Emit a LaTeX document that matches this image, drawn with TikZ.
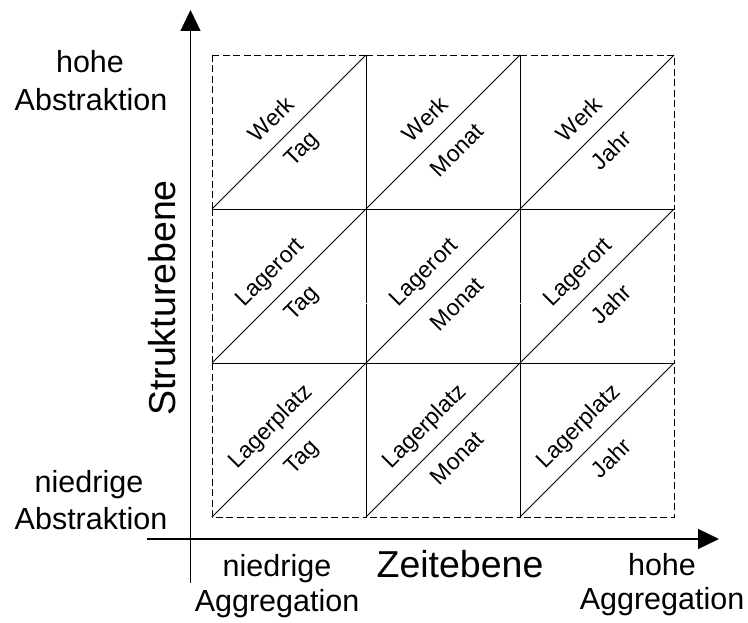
\documentclass[tikz,border=0pt]{standalone}
\usepackage{fontspec}
\setmainfont{Liberation Sans}
\usetikzlibrary{arrows.meta}
\begin{document}
\begin{tikzpicture}[x=1pt,y=-1pt,
  cellbox/.style={draw, dash pattern=on 7pt off 3.5pt, line width=0.9pt},
  diag/.style={line width=0.9pt},
  axisline/.style={line width=1.3pt, -{Triangle[length=21pt,width=20pt]}},
  celltext/.style={font=\fontsize{23}{27}\selectfont, rotate=45, inner sep=0pt},
  sidetext/.style={font=\fontsize{30.5}{36}\selectfont, anchor=base, inner sep=0pt},
  titletext/.style={font=\fontsize{37.5}{44}\selectfont, anchor=base, inner sep=0pt},
]
\useasboundingbox (0,0) rectangle (748,623);
% axes
\coordinate (yo) at (190.5,583);
\coordinate (ytip) at (190.5,10);
\coordinate (xo) at (147,539);
\coordinate (xtip) at (719,539);
\draw[axisline] (yo) -- (ytip);
\draw[axisline] (xo) -- (xtip);
% cells
\foreach \i/\t in {0/Tag,1/Monat,2/Jahr}{
 \foreach \j/\s in {0/Werk,1/Lagerort,2/Lagerplatz}{
  \pgfmathsetmacro\xa{212+154*\i}
  \pgfmathsetmacro\ya{55+154*\j}
  \coordinate (tl-\i-\j) at (\xa,\ya);
  \coordinate (br-\i-\j) at (\xa+154,\ya+154);
  \coordinate (bl-\i-\j) at (\xa,\ya+154);
  \coordinate (tr-\i-\j) at (\xa+154,\ya);
  \draw[cellbox] (tl-\i-\j) rectangle (br-\i-\j);
  \draw[diag] (bl-\i-\j) -- (tr-\i-\j);
  \node[celltext] (s-\i-\j) at (\xa+77-18,\ya+77-13) {\s};
  \node[celltext] (t-\i-\j) at (\xa+77+14,\ya+77+18) {\t};
 }
}
% side labels
\node[sidetext] (ha1) at (90,73) {hohe};
\node[sidetext] (ha2) at (91,111) {Abstraktion};
\node[sidetext] (na1) at (89,492) {niedrige};
\node[sidetext] (na2) at (91,529) {Abstraktion};
\node[sidetext] (ng1) at (277,576) {niedrige};
\node[sidetext] (ng2) at (277,611) {Aggregation};
\node[sidetext] (hg1) at (662,575) {hohe};
\node[sidetext] (hg2) at (662,609) {Aggregation};
\node[titletext] (zeit) at (460,577) {Zeitebene};
\node[titletext, rotate=90] (struk) at (175,298) {Strukturebene};
\end{tikzpicture}
\end{document}
